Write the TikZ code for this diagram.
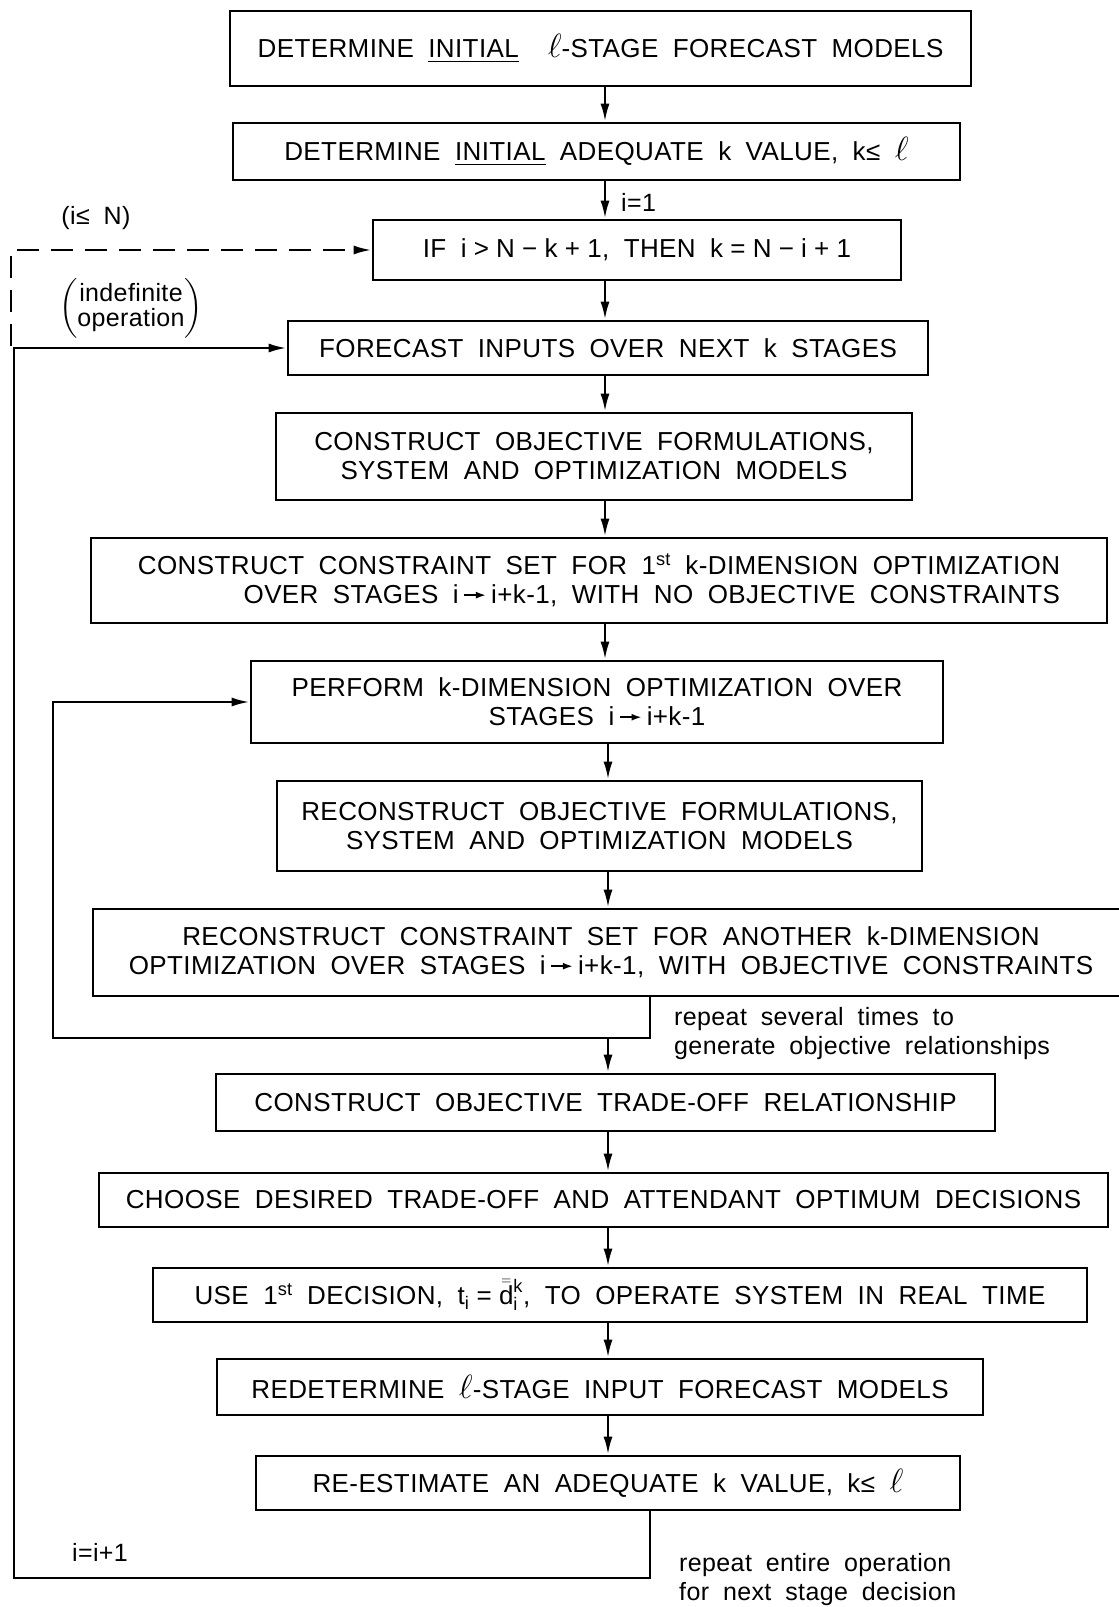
\documentclass[tikz,border=0pt]{standalone}
\usepackage{amsmath}
\usepackage{graphicx}
\usepackage{fontspec}
\setmainfont{Liberation Sans}[WordSpace=1.9, LetterSpace=1.5]
\usetikzlibrary{arrows.meta}

% short filled arrow used inside the stage ranges
\newcommand{\tto}{\,\tikz[baseline=-0.33em]\draw[line width=1.8pt,-{Latex[length=10pt,width=7pt]}] (0pt,0pt)--(22pt,0pt);\,}
% larger script ell for the stage count
\newcommand{\bigell}{\scalebox{1.35}{$\ell$}}

\begin{document}
\begin{tikzpicture}[x=1pt,y=-1pt,
  stepbox/.style={draw, line width=2.7pt, align=center, inner sep=0pt,
    font=\fontsize{26}{29}\selectfont},
  wire/.style={line width=2.5pt},
  flow/.style={wire, -{Latex[length=18pt,width=9pt]}},
  dashwire/.style={flow, dash pattern=on 22pt off 12pt},
  lbl/.style={inner sep=0pt, font=\fontsize{25}{29}\selectfont}
]
\useasboundingbox (0,0) rectangle (1119,1607);

% process steps, top to bottom
\node[stepbox, minimum width=741pt, minimum height=75pt] (b1) at (600.5,48.5)
  {DETERMINE \underline{INITIAL}\ \ \bigell-STAGE FORECAST MODELS};
\node[stepbox, minimum width=727pt, minimum height=57pt] (b2) at (596.5,151.5)
  {DETERMINE \underline{INITIAL} ADEQUATE k VALUE, k≤ \bigell};
\node[stepbox, minimum width=528pt, minimum height=60pt] (b3) at (637,250)
  {IF i\;>\;N\;−\;k\;+\;1, THEN k\;=\;N\;−\;i\;+\;1};
\node[stepbox, minimum width=640pt, minimum height=54pt] (b4) at (608,348)
  {FORECAST INPUTS OVER NEXT k STAGES};
\node[stepbox, minimum width=636pt, minimum height=87pt] (b5) at (594,456.5)
  {CONSTRUCT OBJECTIVE FORMULATIONS,\\ SYSTEM AND OPTIMIZATION MODELS};
\node[stepbox, align=right, minimum width=1016pt, minimum height=85pt] (b6) at (599,580.5)
  {CONSTRUCT CONSTRAINT SET FOR 1\textsuperscript{st} k-DIMENSION OPTIMIZATION\\
   OVER STAGES i\tto i+k-1, WITH NO OBJECTIVE CONSTRAINTS};
\node[stepbox, minimum width=692pt, minimum height=82pt] (b7) at (597,702)
  {PERFORM k-DIMENSION OPTIMIZATION OVER\\ STAGES i\tto i+k-1};
\node[stepbox, minimum width=645pt, minimum height=90pt] (b8) at (599.5,826)
  {RECONSTRUCT OBJECTIVE FORMULATIONS,\\ SYSTEM AND OPTIMIZATION MODELS};
\node[stepbox, minimum width=1036pt, minimum height=87pt] (b9) at (611,952.5)
  {RECONSTRUCT CONSTRAINT SET FOR ANOTHER k-DIMENSION\\
   OPTIMIZATION OVER STAGES i\tto i+k-1, WITH OBJECTIVE CONSTRAINTS};
\node[stepbox, minimum width=779pt, minimum height=57pt] (b10) at (605.5,1102.5)
  {CONSTRUCT OBJECTIVE TRADE-OFF RELATIONSHIP};
\node[stepbox, minimum width=1009pt, minimum height=54pt] (b11) at (603.5,1200)
  {CHOOSE DESIRED TRADE-OFF AND ATTENDANT OPTIMUM DECISIONS};
\node[stepbox, minimum width=934pt, minimum height=54pt] (b12) at (620,1295)
  {USE 1\textsuperscript{st} DECISION, t$_{\text{i}}$\;=\;$\bar{\bar{\text{d}}}^{\text{k}}_{\text{i}}$, TO OPERATE SYSTEM IN REAL TIME};
\node[stepbox, minimum width=766pt, minimum height=56pt] (b13) at (600,1387)
  {REDETERMINE \bigell-STAGE INPUT FORECAST MODELS};
\node[stepbox, minimum width=704pt, minimum height=54pt] (b14) at (608,1483)
  {RE-ESTIMATE AN ADEQUATE k VALUE, k≤ \bigell};

% reference columns for the connectors
\coordinate (ax1) at (605,0);
\coordinate (ax2) at (608,0);
\coordinate (lp) at (650,0);
\coordinate (outer) at (14,1578);
\coordinate (inner) at (53,1038);
\coordinate (dsh) at (11,346);
\coordinate (jn) at (608,1038);

% main downward flow
\draw[flow] (b1.south -| ax1) -- (b2.north -| ax1);
\draw[flow] (b2.south -| ax1) -- (b3.north -| ax1);
\draw[flow] (b3.south -| ax1) -- (b4.north -| ax1);
\draw[flow] (b4.south -| ax1) -- (b5.north -| ax1);
\draw[flow] (b5.south -| ax1) -- (b6.north -| ax1);
\draw[flow] (b6.south -| ax1) -- (b7.north -| ax1);
\draw[flow] (b7.south -| ax2) -- (b8.north -| ax2);
\draw[flow] (b8.south -| ax2) -- (b9.north -| ax2);
\draw[flow] (jn) -- (b10.north -| jn);
\draw[flow] (b10.south -| ax2) -- (b11.north -| ax2);
\draw[flow] (b11.south -| ax2) -- (b12.north -| ax2);
\draw[flow] (b12.south -| ax2) -- (b13.north -| ax2);
\draw[flow] (b13.south -| ax2) -- (b14.north -| ax2);

% inner loop: repeated optimizations
\draw[flow] (b9.south -| lp) |- (inner) |- (b7.west);
% outer loop: next stage decision
\draw[flow] (b14.south -| lp) |- (outer) |- (b4.west);
% dashed branch while i <= N
\draw[dashwire] (dsh) |- (b3.west);

% labels
\node[lbl, anchor=west] (li1) at (621,202) {i=1};
\node[lbl] (liN) at (96,218) {(i≤ N)};
\node[lbl] (lind) at (131,308)
  {$\left(\vcenter{\hbox{\begin{tabular}{@{}c@{}}indefinite\\[-4pt]operation\end{tabular}}}\right)$};
\node[lbl, align=left, anchor=west] (lrep) at (674,1034)
  {repeat several times to\\ generate objective relationships};
\node[lbl] (linc) at (100,1552) {i=i+1};
\node[lbl, align=left, anchor=west] (lent) at (679,1580)
  {repeat entire operation\\ for next stage decision};
\end{tikzpicture}
\end{document}
